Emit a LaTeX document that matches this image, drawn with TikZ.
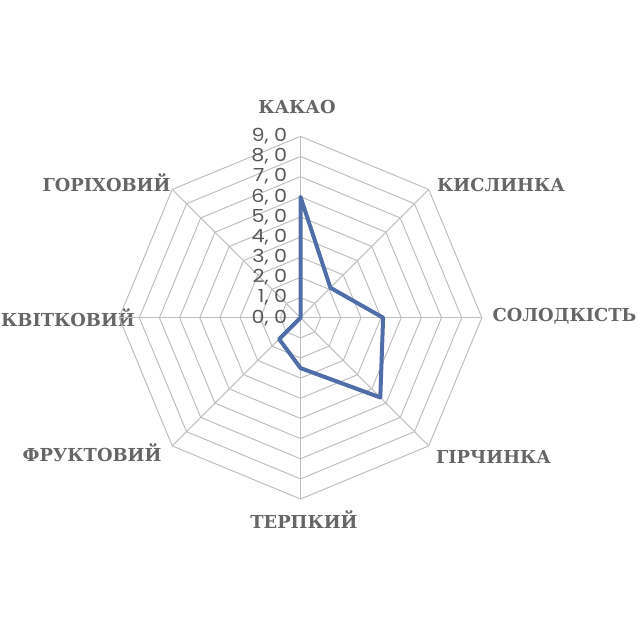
\documentclass[tikz,border=0pt]{standalone}
\usepackage{fontspec}
\newfontfamily\catfont{DejaVu Serif}
\newfontfamily\valfont{Poppins}[FakeStretch=1.15]
\definecolor{gridc}{HTML}{BFBFBF}
\definecolor{serc}{HTML}{4F6EA8}
\definecolor{labc}{HTML}{666666}
\definecolor{valc}{HTML}{595959}
\begin{document}
\begin{tikzpicture}[x=0.75pt,y=0.75pt,
  cat/.style={font=\catfont\bfseries\fontsize{13.4}{14}\selectfont, text=labc, inner sep=0pt},
  val/.style={font=\valfont\fontsize{13.5}{14}\selectfont, text=valc, inner sep=0pt, anchor=east},
  gridline/.style={draw=gridc, line width=0.75pt},
  series/.style={draw=serc, line width=3pt, line join=round}]
\useasboundingbox (0,0) rectangle (641,630);
% category labels (image coords: y -> 630 - y)
\node[cat] (kakao) at (297,522.7) {КАКАО};
\node[cat] (kysl) at (501,445) {КИСЛИНКА};
\node[cat] (solod) at (564.5,313.3) {СОЛОДКІСТЬ};
\node[cat] (hirch) at (493.5,173.3) {ГІРЧИНКА};
\node[cat] (terp) at (304,110) {ТЕРПКИЙ};
\node[cat] (frukt) at (92,177) {ФРУКТОВИЙ};
\node[cat] (kvit) at (68,312) {КВІТКОВИЙ};
\node[cat] (gorih) at (106.5,447) {ГОРІХОВИЙ};
\begin{scope}[shift={(300.5,312.3)}, x=15.1125pt, y=15.1125pt]
  \coordinate (c) at (0,0);
  \foreach \k in {1,...,9}{
    \draw[gridline] (90:\k) -- (45:\k) -- (0:\k) -- (-45:\k) -- (-90:\k) -- (-135:\k) -- (180:\k) -- (135:\k) -- cycle;
  }
  \foreach \a in {90,45,0,-45,-90,-135,180,135}{
    \draw[gridline] (c) -- (\a:9);
  }
  \coordinate (p1) at (90:6.0);
  \coordinate (p2) at (45:2.1);
  \coordinate (p3) at (0:4.1);
  \coordinate (p4) at (-45:5.6);
  \coordinate (p5) at (-90:2.5);
  \coordinate (p6) at (-135:1.5);
  \coordinate (p7) at (180:0);
  \coordinate (p8) at (135:0);
  \draw[series] (p1) -- (p2) -- (p3) -- (p4) -- (p5) -- (p6) -- (p7) -- (p8) -- cycle;
  \foreach \k in {0,...,9}{
    \node[val] (v\k) at ([xshift=-9.8pt]0,\k) {\k, 0};
  }
\end{scope}
\end{tikzpicture}
\end{document}
